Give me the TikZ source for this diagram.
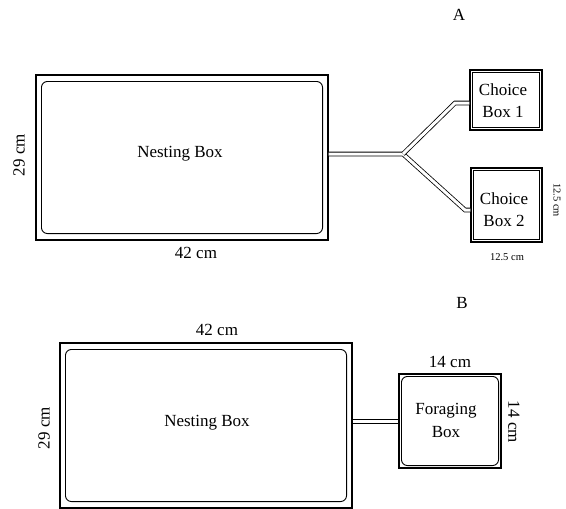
\documentclass[tikz,border=0pt]{standalone}
\usepackage{fontspec}
\setmainfont{Liberation Serif}
\begin{document}
\begin{tikzpicture}[x=1pt,y=-1pt,
  outerbox/.style={draw,line width=1.1pt,rectangle,inner sep=0pt},
  lbl/.style={font=\fontsize{17}{20}\selectfont},
  small/.style={font=\fontsize{10.5}{12}\selectfont},
  tube/.style={double,double distance=3pt,line width=0.8pt},
  innerr/.style={line width=0.9pt,rounded corners=6pt}]
\useasboundingbox (0,0) rectangle (566,509);
% ---------- Panel A
\node[lbl] (labA) at (459,15) {A};
\node[outerbox,minimum width=292pt,minimum height=165pt] (nestA) at (182,157.5) {};
\draw[innerr] ([shift={(6,7)}]nestA.north west) rectangle ([shift={(-6,-7)}]nestA.south east);
\node[lbl] (nestAtxt) at (180,154) {Nesting Box};
\node[lbl,rotate=90] (hA) at (19,155) {29 cm};
\node[lbl] (wA) at (196,253) {42 cm};
\node[outerbox,minimum width=72pt,minimum height=60pt] (cb1) at (506,100) {};
\draw[line width=0.7pt] ([shift={(3,3)}]cb1.north west) rectangle ([shift={(-3,-3)}]cb1.south east);
\node[lbl,align=center] (cb1txt) at (503,101) {Choice\\[2pt]Box 1};
\node[outerbox,minimum width=71pt,minimum height=74pt] (cb2) at (506.5,205) {};
\draw[line width=0.7pt] ([shift={(3,3)}]cb2.north west) rectangle ([shift={(-3,-3)}]cb2.south east);
\node[lbl,align=center] (cb2txt) at (504,210) {Choice\\[2pt]Box 2};
\node[small,rotate=-90] (hcb) at (557,200) {12.5 cm};
\node[small] (wcb) at (507,257) {12.5 cm};
\coordinate (junc) at (403,154);
\coordinate (bend1) at (455,103);
\coordinate (bend2) at (465,210);
\draw[tube] (nestA.east |- junc) -- (junc) -- (bend2) -- (cb2.west |- bend2);
\draw[tube] (junc) -- (bend1) -- (cb1.west |- bend1);
% ---------- Panel B
\node[lbl] (labB) at (462,303) {B};
\node[outerbox,minimum width=292pt,minimum height=165pt] (nestB) at (206,425.5) {};
\draw[innerr] ([shift={(6,7)}]nestB.north west) rectangle ([shift={(-6,-7)}]nestB.south east);
\node[lbl] (nestBtxt) at (207,423) {Nesting Box};
\node[lbl,rotate=90] (hB) at (44,428) {29 cm};
\node[lbl] (wB) at (217,330) {42 cm};
\node[outerbox,minimum width=102pt,minimum height=94pt] (forB) at (450,421) {};
\draw[innerr] ([shift={(3,3)}]forB.north west) rectangle ([shift={(-3,-3)}]forB.south east);
\node[lbl,align=center] (forBtxt) at (446,420) {Foraging\\[3pt]Box};
\node[lbl] (wF) at (450,362) {14 cm};
\node[lbl,rotate=-90] (hF) at (514,422) {14 cm};
\coordinate (tB) at (352,421.5);
\draw[tube] (nestB.east |- tB) -- (forB.west |- tB);
\end{tikzpicture}
\end{document}
